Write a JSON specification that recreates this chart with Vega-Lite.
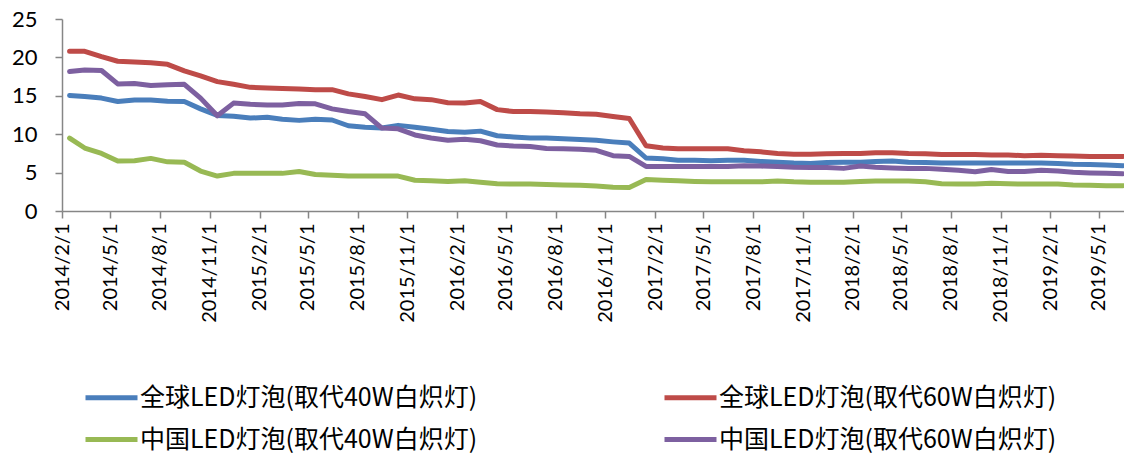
{
  "$schema": "https://vega.github.io/schema/vega-lite/v6.json",
  "width": 1062,
  "height": 192,
  "autosize": {"type": "none"},
  "padding": {"left": 62, "top": 19, "right": 0, "bottom": 242},
  "background": "white",
  "view": {"stroke": null},
  "data": {"values": [
    {"date": "2014-02-15", "a": 15.05, "b": 20.8, "c": 9.5, "d": 18.15},
    {"date": "2014-03-15", "a": 14.9, "b": 20.8, "c": 8.2, "d": 18.35},
    {"date": "2014-04-15", "a": 14.7, "b": 20.1, "c": 7.5, "d": 18.3},
    {"date": "2014-05-15", "a": 14.25, "b": 19.5, "c": 6.5, "d": 16.55},
    {"date": "2014-06-15", "a": 14.45, "b": 19.4, "c": 6.55, "d": 16.6},
    {"date": "2014-07-15", "a": 14.45, "b": 19.3, "c": 6.85, "d": 16.35},
    {"date": "2014-08-15", "a": 14.3, "b": 19.1, "c": 6.4, "d": 16.45},
    {"date": "2014-09-15", "a": 14.25, "b": 18.25, "c": 6.35, "d": 16.5},
    {"date": "2014-10-15", "a": 13.3, "b": 17.6, "c": 5.2, "d": 14.7},
    {"date": "2014-11-15", "a": 12.45, "b": 16.85, "c": 4.55, "d": 12.4},
    {"date": "2014-12-15", "a": 12.35, "b": 16.5, "c": 4.9, "d": 14.05},
    {"date": "2015-01-15", "a": 12.1, "b": 16.1, "c": 4.9, "d": 13.9},
    {"date": "2015-02-15", "a": 12.2, "b": 16.0, "c": 4.9, "d": 13.8},
    {"date": "2015-03-15", "a": 11.95, "b": 15.95, "c": 4.9, "d": 13.8},
    {"date": "2015-04-15", "a": 11.8, "b": 15.9, "c": 5.15, "d": 14.0},
    {"date": "2015-05-15", "a": 11.95, "b": 15.8, "c": 4.75, "d": 13.95},
    {"date": "2015-06-15", "a": 11.85, "b": 15.8, "c": 4.65, "d": 13.3},
    {"date": "2015-07-15", "a": 11.1, "b": 15.25, "c": 4.55, "d": 12.95},
    {"date": "2015-08-15", "a": 10.9, "b": 14.9, "c": 4.55, "d": 12.65},
    {"date": "2015-09-15", "a": 10.8, "b": 14.5, "c": 4.55, "d": 10.8},
    {"date": "2015-10-15", "a": 11.15, "b": 15.1, "c": 4.55, "d": 10.7},
    {"date": "2015-11-15", "a": 10.9, "b": 14.6, "c": 4.0, "d": 9.9},
    {"date": "2015-12-15", "a": 10.65, "b": 14.5, "c": 3.95, "d": 9.5},
    {"date": "2016-01-15", "a": 10.35, "b": 14.1, "c": 3.85, "d": 9.2},
    {"date": "2016-02-15", "a": 10.25, "b": 14.05, "c": 3.95, "d": 9.35},
    {"date": "2016-03-15", "a": 10.4, "b": 14.25, "c": 3.75, "d": 9.15},
    {"date": "2016-04-15", "a": 9.8, "b": 13.2, "c": 3.55, "d": 8.6},
    {"date": "2016-05-15", "a": 9.65, "b": 12.95, "c": 3.5, "d": 8.45},
    {"date": "2016-06-15", "a": 9.5, "b": 12.95, "c": 3.5, "d": 8.4},
    {"date": "2016-07-15", "a": 9.5, "b": 12.9, "c": 3.45, "d": 8.15},
    {"date": "2016-08-15", "a": 9.4, "b": 12.8, "c": 3.4, "d": 8.1},
    {"date": "2016-09-15", "a": 9.3, "b": 12.65, "c": 3.35, "d": 8.05},
    {"date": "2016-10-15", "a": 9.2, "b": 12.6, "c": 3.25, "d": 7.9},
    {"date": "2016-11-15", "a": 9.0, "b": 12.3, "c": 3.1, "d": 7.2},
    {"date": "2016-12-15", "a": 8.85, "b": 12.05, "c": 3.05, "d": 7.1},
    {"date": "2017-01-15", "a": 6.9, "b": 8.5, "c": 4.1, "d": 5.8},
    {"date": "2017-02-15", "a": 6.8, "b": 8.2, "c": 4.0, "d": 5.8},
    {"date": "2017-03-15", "a": 6.6, "b": 8.1, "c": 3.95, "d": 5.8},
    {"date": "2017-04-15", "a": 6.6, "b": 8.1, "c": 3.85, "d": 5.8},
    {"date": "2017-05-15", "a": 6.55, "b": 8.1, "c": 3.8, "d": 5.8},
    {"date": "2017-06-15", "a": 6.6, "b": 8.1, "c": 3.8, "d": 5.8},
    {"date": "2017-07-15", "a": 6.6, "b": 7.85, "c": 3.8, "d": 5.9},
    {"date": "2017-08-15", "a": 6.45, "b": 7.7, "c": 3.8, "d": 5.85},
    {"date": "2017-09-15", "a": 6.35, "b": 7.5, "c": 3.9, "d": 5.8},
    {"date": "2017-10-15", "a": 6.25, "b": 7.4, "c": 3.8, "d": 5.7},
    {"date": "2017-11-15", "a": 6.2, "b": 7.4, "c": 3.75, "d": 5.65},
    {"date": "2017-12-15", "a": 6.3, "b": 7.45, "c": 3.75, "d": 5.65},
    {"date": "2018-01-15", "a": 6.35, "b": 7.5, "c": 3.75, "d": 5.55},
    {"date": "2018-02-15", "a": 6.35, "b": 7.5, "c": 3.85, "d": 5.85},
    {"date": "2018-03-15", "a": 6.45, "b": 7.6, "c": 3.9, "d": 5.7},
    {"date": "2018-04-15", "a": 6.5, "b": 7.6, "c": 3.9, "d": 5.6},
    {"date": "2018-05-15", "a": 6.35, "b": 7.5, "c": 3.9, "d": 5.55},
    {"date": "2018-06-15", "a": 6.3, "b": 7.45, "c": 3.8, "d": 5.55},
    {"date": "2018-07-15", "a": 6.25, "b": 7.35, "c": 3.55, "d": 5.45},
    {"date": "2018-08-15", "a": 6.25, "b": 7.35, "c": 3.5, "d": 5.3},
    {"date": "2018-09-15", "a": 6.25, "b": 7.35, "c": 3.5, "d": 5.1},
    {"date": "2018-10-15", "a": 6.25, "b": 7.3, "c": 3.6, "d": 5.4},
    {"date": "2018-11-15", "a": 6.25, "b": 7.3, "c": 3.55, "d": 5.15},
    {"date": "2018-12-15", "a": 6.25, "b": 7.2, "c": 3.5, "d": 5.15},
    {"date": "2019-01-15", "a": 6.25, "b": 7.25, "c": 3.5, "d": 5.3},
    {"date": "2019-02-15", "a": 6.2, "b": 7.2, "c": 3.5, "d": 5.2},
    {"date": "2019-03-15", "a": 6.1, "b": 7.15, "c": 3.4, "d": 5.05},
    {"date": "2019-04-15", "a": 6.05, "b": 7.1, "c": 3.35, "d": 4.95},
    {"date": "2019-05-15", "a": 6.0, "b": 7.1, "c": 3.3, "d": 4.9},
    {"date": "2019-06-15", "a": 5.9, "b": 7.1, "c": 3.3, "d": 4.85}
  ]},
  "transform": [
    {"fold": ["a", "b", "c", "d"], "as": ["key", "value"]},
    {"lookup": "key", "from": {"data": {"values": [
      {"key": "a", "series": "全球LED灯泡(取代40W白炽灯)"},
      {"key": "b", "series": "全球LED灯泡(取代60W白炽灯)"},
      {"key": "c", "series": "中国LED灯泡(取代40W白炽灯)"},
      {"key": "d", "series": "中国LED灯泡(取代60W白炽灯)"}
    ]}, "key": "key", "fields": ["series"]}}
  ],
  "mark": {"type": "line", "strokeWidth": 5, "strokeJoin": "round", "strokeCap": "round"},
  "encoding": {
    "x": {
      "field": "date", "type": "temporal",
      "scale": {"type": "utc", "domain": [{"year": 2014, "month": 2, "date": 1, "utc": true}, {"year": 2019, "month": 6, "date": 17, "utc": true}]},
      "axis": {
        "title": null, "grid": false, "format": "%Y/%-m/%-d", "labelAngle": -90,
        "values": [
          {"year": 2014, "month": 2, "date": 1, "utc": true}, {"year": 2014, "month": 5, "date": 1, "utc": true},
          {"year": 2014, "month": 8, "date": 1, "utc": true}, {"year": 2014, "month": 11, "date": 1, "utc": true},
          {"year": 2015, "month": 2, "date": 1, "utc": true}, {"year": 2015, "month": 5, "date": 1, "utc": true},
          {"year": 2015, "month": 8, "date": 1, "utc": true}, {"year": 2015, "month": 11, "date": 1, "utc": true},
          {"year": 2016, "month": 2, "date": 1, "utc": true}, {"year": 2016, "month": 5, "date": 1, "utc": true},
          {"year": 2016, "month": 8, "date": 1, "utc": true}, {"year": 2016, "month": 11, "date": 1, "utc": true},
          {"year": 2017, "month": 2, "date": 1, "utc": true}, {"year": 2017, "month": 5, "date": 1, "utc": true},
          {"year": 2017, "month": 8, "date": 1, "utc": true}, {"year": 2017, "month": 11, "date": 1, "utc": true},
          {"year": 2018, "month": 2, "date": 1, "utc": true}, {"year": 2018, "month": 5, "date": 1, "utc": true},
          {"year": 2018, "month": 8, "date": 1, "utc": true}, {"year": 2018, "month": 11, "date": 1, "utc": true},
          {"year": 2019, "month": 2, "date": 1, "utc": true}, {"year": 2019, "month": 5, "date": 1, "utc": true}
        ],
        "labelFont": "Lato", "labelFontSize": 20, "labelColor": "#000000", "labelPadding": 5,
        "domainColor": "#868686", "domainWidth": 1.5, "tickColor": "#868686", "tickSize": 7, "tickWidth": 1.5,
        "labelOverlap": false, "labelBound": false, "labelFlush": false
      }
    },
    "y": {
      "field": "value", "type": "quantitative",
      "scale": {"domain": [0, 25], "nice": false, "zero": true},
      "axis": {
        "title": null, "grid": false, "values": [0, 5, 10, 15, 20, 25],
        "labelFont": "Lato", "labelFontSize": 22, "labelColor": "#000000", "labelPadding": 18,
        "domainColor": "#868686", "domainWidth": 1.5, "tickColor": "#868686", "tickSize": 7, "tickWidth": 1.5,
        "labelOverlap": false, "labelFlush": false
      }
    },
    "color": {
      "field": "series", "type": "nominal",
      "scale": {
        "domain": ["全球LED灯泡(取代40W白炽灯)", "全球LED灯泡(取代60W白炽灯)", "中国LED灯泡(取代40W白炽灯)", "中国LED灯泡(取代60W白炽灯)"],
        "range": ["#4A7EBB", "#BE4B48", "#98B954", "#7D60A0"]
      },
      "legend": {
        "title": null, "orient": "none", "legendX": 21, "legendY": 350, "columns": 2, "direction": "horizontal",
        "symbolType": "stroke", "symbolSize": 2704, "symbolStrokeWidth": 5,
        "labelFont": "Noto Sans CJK SC", "labelFontSize": 25, "labelColor": "#000000", "labelLimit": 600,
        "labelOffset": 0, "columnPadding": 176, "rowPadding": -13
      }
    }
  }
}
